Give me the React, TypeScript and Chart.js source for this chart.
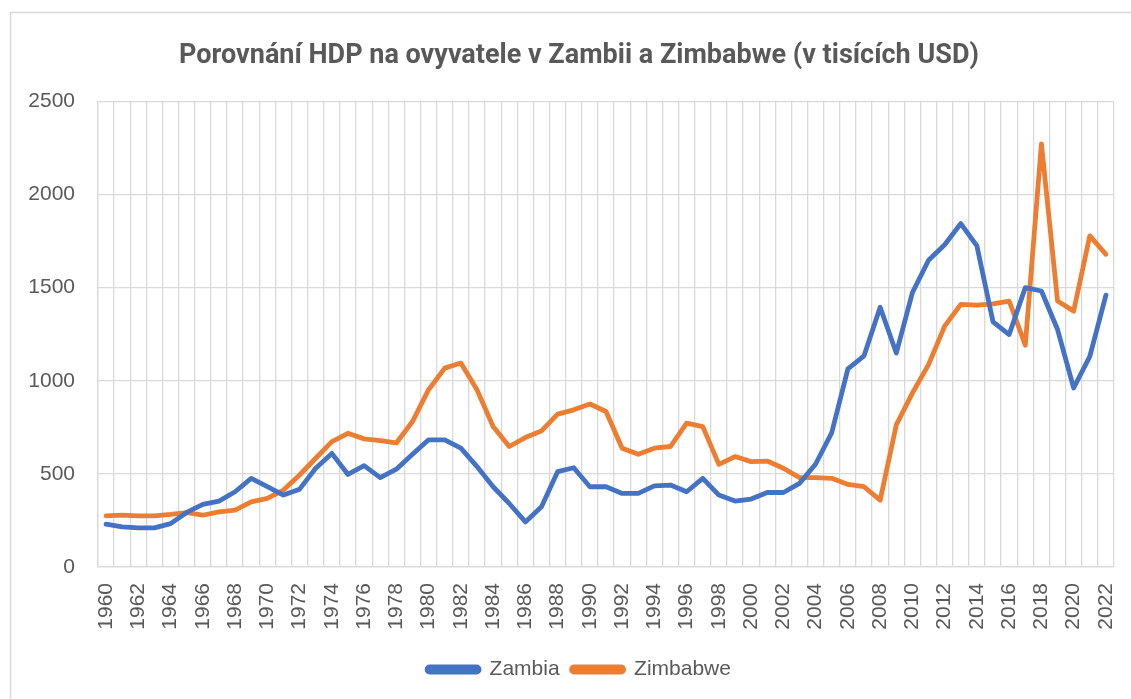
import React, { useEffect, useRef } from "react";
import { Chart, registerables } from "chart.js";

Chart.register(...registerables);

const years: string[] = [];
for (let y = 1960; y <= 2022; y++) years.push(String(y));

const zambia = [
  230, 215, 210, 210, 233, 293, 336, 354, 404, 476,
  431, 386, 418, 530, 610, 497, 544, 480, 525, 605,
  683, 683, 638, 539, 431, 341, 242, 323, 512, 533,
  431, 431, 395, 395, 436, 440, 404, 476, 386, 354,
  365, 400, 400, 449, 553, 722, 1064, 1134, 1395, 1149,
  1473, 1647, 1730, 1844, 1724, 1316, 1248, 1500, 1482, 1275,
  961, 1131, 1460,
];

const zimbabwe = [
  275, 278, 275, 275, 282, 292, 278, 296, 305, 350,
  368, 413, 494, 584, 673, 718, 688, 679, 666, 781,
  952, 1068, 1095, 952, 754, 647, 695, 731, 821, 844,
  875, 835, 638, 605, 638, 647, 772, 754, 551, 593,
  566, 569, 530, 480, 480, 476, 443, 431, 359, 763,
  934, 1087, 1293, 1410, 1406, 1413, 1428, 1191, 2272, 1428,
  1374, 1778, 1679,
];

const title = "Porovnání HDP na ovyvatele v Zambii a Zimbabwe (v tisících USD)";
const seriesNames = ["Zambia", "Zimbabwe"];
const colors = ["#4472C4", "#ED7D31"];

const textColor = "#595959";
const gridColor = "#d9d9d9";
const tickFont = { family: "'Liberation Sans', Arial, sans-serif", size: 21 };

const borderPlugin = {
  id: "outerBorder",
  beforeDraw(chart: any) {
    const ctx = chart.ctx;
    ctx.save();
    ctx.fillStyle = "#ffffff";
    ctx.fillRect(0, 0, chart.width, chart.height);
    ctx.strokeStyle = "#d9d9d9";
    ctx.lineWidth = 1.5;
    ctx.strokeRect(10.5, 12.5, chart.width + 20, chart.height + 20);
    ctx.restore();
  },
};

const shiftPlugin = {
  id: "centerShift",
  afterLayout(chart: any) {
    const dx = 17;
    if (chart.titleBlock) {
      chart.titleBlock.left += dx;
      chart.titleBlock.right += dx;
    }
    if (chart.legend) {
      chart.legend.left += dx;
      chart.legend.right += dx;
      if (chart.legend.legendHitBoxes) {
        chart.legend.legendHitBoxes.forEach((b: any) => (b.left += dx));
      }
    }
  },
};

export default function App() {
  const ref = useRef<HTMLCanvasElement>(null);
  useEffect(() => {
    const chart = new Chart(ref.current!, {
      type: "line",
      data: {
        labels: years,
        datasets: [
          {
            label: seriesNames[0],
            data: zambia,
            borderColor: colors[0],
            backgroundColor: colors[0],
            borderWidth: 4.8,
            pointRadius: 0,
            tension: 0,
            borderCapStyle: "round",
            borderJoinStyle: "round",
          },
          {
            label: seriesNames[1],
            data: zimbabwe,
            borderColor: colors[1],
            backgroundColor: colors[1],
            borderWidth: 4.8,
            pointRadius: 0,
            tension: 0,
            borderCapStyle: "round",
            borderJoinStyle: "round",
          },
        ],
      },
      options: {
        animation: false,
        responsive: false,
        maintainAspectRatio: false,
        layout: { padding: { left: 10, right: 17, top: 0, bottom: 9 } },
        plugins: {
          title: {
            display: true,
            text: title,
            color: textColor,
            font: { family: "Roboto, sans-serif", size: 27, weight: "bold" },
            padding: { top: 40, bottom: 29 },
          },
          legend: {
            position: "bottom",
            labels: {
              color: textColor,
              font: tickFont,
              boxWidth: 52,
              boxHeight: 5,
              useBorderRadius: true,
              borderRadius: 2.5,
              padding: 12,
            },
          },
          tooltip: { enabled: false },
        },
        scales: {
          x: {
            offset: true,
            grid: { offset: true, color: gridColor, lineWidth: 1.3, drawTicks: false },
            border: { color: gridColor, width: 1.3 },
            ticks: {
              autoSkip: false,
              maxRotation: 90,
              minRotation: 90,
              padding: 16,
              color: textColor,
              font: tickFont,
              callback: (_v: any, i: number) => (i % 2 === 0 ? years[i] : ""),
            },
            afterFit: (s: any) => {
              s.height = 80;
              s.paddingLeft = 0;
              s.paddingRight = 0;
            },
          },
          y: {
            min: 0,
            max: 2500,
            grid: { color: gridColor, lineWidth: 1.3, drawTicks: false },
            border: { color: gridColor, width: 1.3 },
            ticks: {
              stepSize: 500,
              padding: 23,
              color: textColor,
              font: tickFont,
              callback: (v: any) => String(v),
            },
            afterFit: (s: any) => {
              s.width = 88;
            },
          },
        },
      },
      plugins: [borderPlugin, shiftPlugin],
    } as any);
    return () => chart.destroy();
  }, []);
  return (
    <div style={{ position: "absolute", left: 0, top: 0, width: 1131, height: 699 }}>
      <canvas ref={ref} width={1131} height={699} style={{ width: 1131, height: 699 }} />
    </div>
  );
}
